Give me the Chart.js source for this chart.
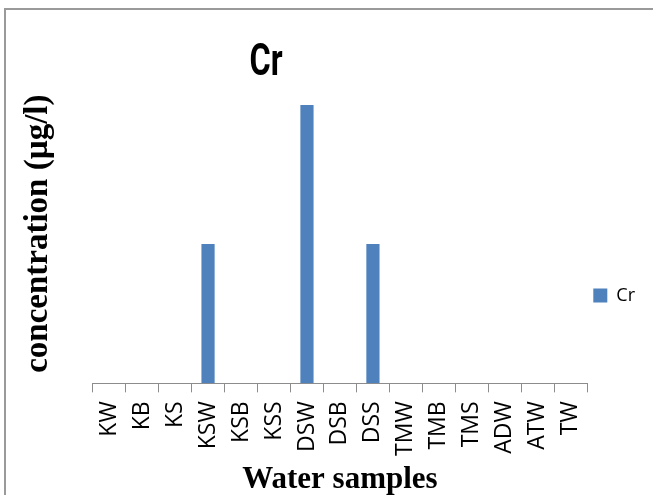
<!DOCTYPE html>
<html>
<head>
<meta charset="utf-8">
<script src="https://cdn.jsdelivr.net/npm/chart.js@4.4.1/dist/chart.umd.min.js"></script>
<style>
    html, body { margin: 0; padding: 0; background: #fff; overflow: hidden; }
    #wrap { position: relative; width: 653px; height: 495px; }
    #frame { position: absolute; left: 4px; top: 8px; width: 720px; height: 600px;
             border-left: 2px solid #9a9a9a; border-top: 2px solid #9a9a9a; }
    #crChart { position: absolute; left: 0; top: 0; }
</style>
</head>
<body>
<div id="wrap">
    <div id="frame"></div>
    <canvas id="crChart" width="653" height="495"></canvas>
</div>
<script>
var chartTitle = "Cr";
var seriesName = "Cr";
var samples = ["KW", "KB", "KS", "KSW", "KSB", "KSS", "DSW", "DSB", "DSS", "TMW", "TMB", "TMS", "ADW", "ATW", "TW"];
var crValues = [0, 0, 0, 1, 0, 0, 2, 0, 1, 0, 0, 0, 0, 0, 0];
var yTitle = "concentration (\u00b5g/l)";
var xTitle = "Water samples";

// Title is drawn narrow and a bit left of centre, like the office chart it came from
var narrowTitle = {
    id: 'narrowTitle',
    afterDraw: function(chart){
        var ctx = chart.ctx;
        ctx.save();
        ctx.font = 'bold 45px Roboto, "DejaVu Sans", sans-serif';
        ctx.fillStyle = '#000';
        ctx.textAlign = 'center';
        ctx.textBaseline = 'alphabetic';
        ctx.translate(266, 75);
        ctx.scale(0.72, 1);
        ctx.fillText(chartTitle, 0, 0);
        ctx.restore();
    }
};

document.addEventListener("DOMContentLoaded", function(){
    new Chart(document.getElementById('crChart'), {
        type: 'bar',
        data: {
            labels: samples,
            datasets: [{
                label: seriesName,
                data: crValues,
                backgroundColor: '#4f81bd',
                borderWidth: 0,
                barPercentage: 0.4,
                categoryPercentage: 1.0
            }]
        },
        options: {
            responsive: false,
            animation: false,
            layout: {
                padding: { top: 84, left: 5, right: 8, bottom: 0 }
            },
            plugins: {
                tooltip: { enabled: false },
                title: { display: false },
                legend: {
                    position: 'right',
                    // empty legend title only nudges the key a little lower
                    title: { display: true, text: '', padding: 0, font: { size: 10 } },
                    labels: {
                        boxWidth: 14,
                        boxHeight: 14,
                        padding: 6,
                        color: '#000',
                        font: { family: '"Open Sans"', size: 18 }
                    }
                }
            },
            scales: {
                x: {
                    grid: {
                        drawOnChartArea: false,
                        drawTicks: true,
                        tickLength: 9,
                        color: '#8c8c8c'
                    },
                    border: { display: true, color: '#8c8c8c', width: 1 },
                    ticks: {
                        autoSkip: false,
                        maxRotation: 90,
                        minRotation: 90,
                        padding: 9,
                        color: '#000',
                        font: { family: '"Open Sans"', size: 23 }
                    },
                    title: {
                        display: true,
                        text: xTitle,
                        color: '#000',
                        padding: { top: 0, bottom: 0 },
                        font: { family: '"Liberation Serif"', size: 31, weight: 'bold', lineHeight: 0.97 }
                    }
                },
                y: {
                    min: 0,
                    max: 2.15,
                    grid: { display: false, drawTicks: false },
                    border: { display: false },
                    ticks: { display: false },
                    title: {
                        display: true,
                        text: yTitle,
                        color: '#000',
                        padding: { top: 14, bottom: 34 },
                        font: { family: '"Liberation Serif"', size: 33, weight: 'bold' }
                    }
                }
            }
        },
        plugins: [narrowTitle]
    });
});
</script>
</body>
</html>
